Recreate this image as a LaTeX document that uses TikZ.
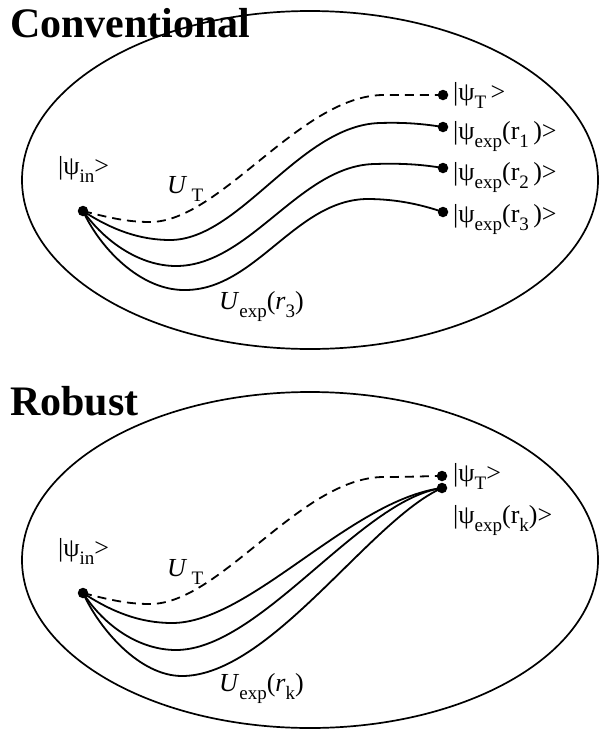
\documentclass[tikz,border=0pt]{standalone}
\usepackage{fontspec}
\setmainfont{Liberation Serif}
\newcommand{\sbx}[1]{\raisebox{-0.32em}{\fontsize{19}{19}\selectfont #1}}
\begin{document}
\begin{tikzpicture}[x=1pt,y=-1pt,
  dotnode/.style={circle,fill=black,inner sep=0pt,minimum size=10.5pt},
  lbl/.style={anchor=base west,inner sep=0pt,font=\fontsize{26}{30}\selectfont},
  ttl/.style={anchor=base west,inner sep=0pt,font=\fontsize{42}{46}\selectfont\bfseries},
  curve/.style={line width=1.8pt},
  dcurve/.style={line width=1.8pt,dash pattern=on 9pt off 6pt},
  frame/.style={line width=1.7pt}]
\useasboundingbox (0,0) rectangle (600,731);

% ---------- Conventional ----------
\draw[frame] (310,180) ellipse [x radius=288pt, y radius=169pt];
\node[ttl] (t1) at (10,37) {Conventional};

\node[dotnode] (in1) at (83,211) {};
\node[dotnode] (T1) at (443,95) {};
\node[dotnode] (E1) at (443,127) {};
\node[dotnode] (E2) at (443,168) {};
\node[dotnode] (E3) at (443,212) {};

\draw[dcurve] (in1.center) .. controls (110,218) and (128,222) .. (150,222)
  .. controls (220,222) and (300,96) .. (383,95)
  .. controls (410,95) and (430,95) .. (T1.center);
\draw[curve] (in1.center) .. controls (112,230) and (140,240) .. (170,240)
  .. controls (240,240) and (300,125) .. (380,123)
  .. controls (410,122) and (430,125) .. (E1.center);
\draw[curve] (in1.center) .. controls (105,242) and (140,266) .. (176,266)
  .. controls (250,266) and (300,165) .. (375,164)
  .. controls (405,163) and (425,165) .. (E2.center);
\draw[curve] (in1.center) .. controls (100,248) and (140,290) .. (184,290)
  .. controls (255,291) and (295,200) .. (367,199)
  .. controls (400,199) and (425,206) .. (E3.center);

\node[lbl] (lin1) at (58,174) {|ψ\sbx{in}>};
\node[lbl] (lUT1) at (167,193) {\textit{U}\,\sbx{T}};
\node[lbl] (lU1) at (219,309) {\textit{U}\sbx{exp}(\textit{r}\sbx{3})};
\node[lbl] (lT1) at (453,100) {|ψ\sbx{T}\,>};
\node[lbl] (lE1) at (453,139) {|ψ\sbx{exp}(r\sbx{1}\,)>};
\node[lbl] (lE2) at (453,180) {|ψ\sbx{exp}(r\sbx{2}\,)>};
\node[lbl] (lE3) at (453,222) {|ψ\sbx{exp}(r\sbx{3}\,)>};

% ---------- Robust ----------
\draw[frame] (310,560) ellipse [x radius=288pt, y radius=168pt];
\node[ttl] (t2) at (10,415) {Robust};

\node[dotnode] (in2) at (83,593) {};
\node[dotnode] (T2) at (442,476) {};
\node[dotnode] (E4) at (442,488) {};

\draw[dcurve] (in2.center) .. controls (110,600) and (128,604) .. (150,604)
  .. controls (220,604) and (300,478) .. (383,477)
  .. controls (410,477) and (430,476) .. (T2.center);
\draw[curve] (in2.center) .. controls (112,612) and (140,623) .. (172,623)
  .. controls (250,623) and (350,500) .. (E4.center);
\draw[curve] (in2.center) .. controls (105,627) and (140,650) .. (176,650)
  .. controls (260,650) and (360,500) .. (E4.center);
\draw[curve] (in2.center) .. controls (100,630) and (140,676) .. (182,676)
  .. controls (270,676) and (370,520) .. (E4.center);

\node[lbl] (lin2) at (58,556) {|ψ\sbx{in}>};
\node[lbl] (lUT2) at (167,576) {\textit{U}\,\sbx{T}};
\node[lbl] (lU2) at (219,691) {\textit{U}\sbx{exp}(\textit{r}\sbx{k})};
\node[lbl] (lT2) at (453,481) {|ψ\sbx{T}>};
\node[lbl] (lE4) at (453,523) {|ψ\sbx{exp}(r\sbx{k})>};
\end{tikzpicture}
\end{document}
